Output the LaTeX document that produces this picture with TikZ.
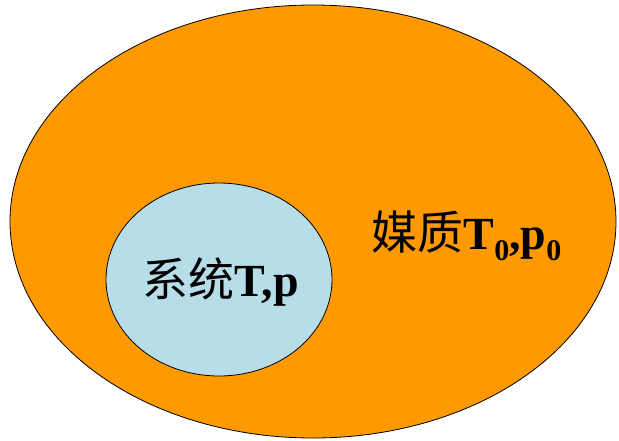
\documentclass[tikz,border=0pt]{standalone}
\usepackage{fontspec}
\usetikzlibrary{shapes.geometric}
\setmainfont{Liberation Serif}
\newfontfamily\cjk{Noto Sans CJK SC}[BoldFont={* Bold}]
\definecolor{outerc}{HTML}{FF9900}
\definecolor{innerc}{HTML}{B7DEE8}
\newcommand{\subz}{\raisebox{-0.24em}{\fontsize{30}{32}\selectfont 0}}
\tikzset{
  region/.style={draw=black, line width=0.8pt},
  lbl/.style={anchor=base, inner sep=0pt, font=\fontsize{46}{50}\selectfont\bfseries}
}
\begin{document}
\begin{tikzpicture}[x=1pt,y=-1pt]
\useasboundingbox (0,0) rectangle (619,440);
\node[region, ellipse, fill=outerc, minimum width=606, minimum height=433, inner sep=0pt] (medium) at (313,221.5) {};
\node[region, ellipse, fill=innerc, minimum width=226, minimum height=193, inner sep=0pt] (system) at (219,279.5) {};
\node[lbl] (systxt) at (220.5,296) {{\cjk\mdseries 系统}T,p};
\node[lbl] (medtxt) at (466.5,249) {{\cjk\mdseries 媒质}T\subz,p\subz};
\end{tikzpicture}
\end{document}
